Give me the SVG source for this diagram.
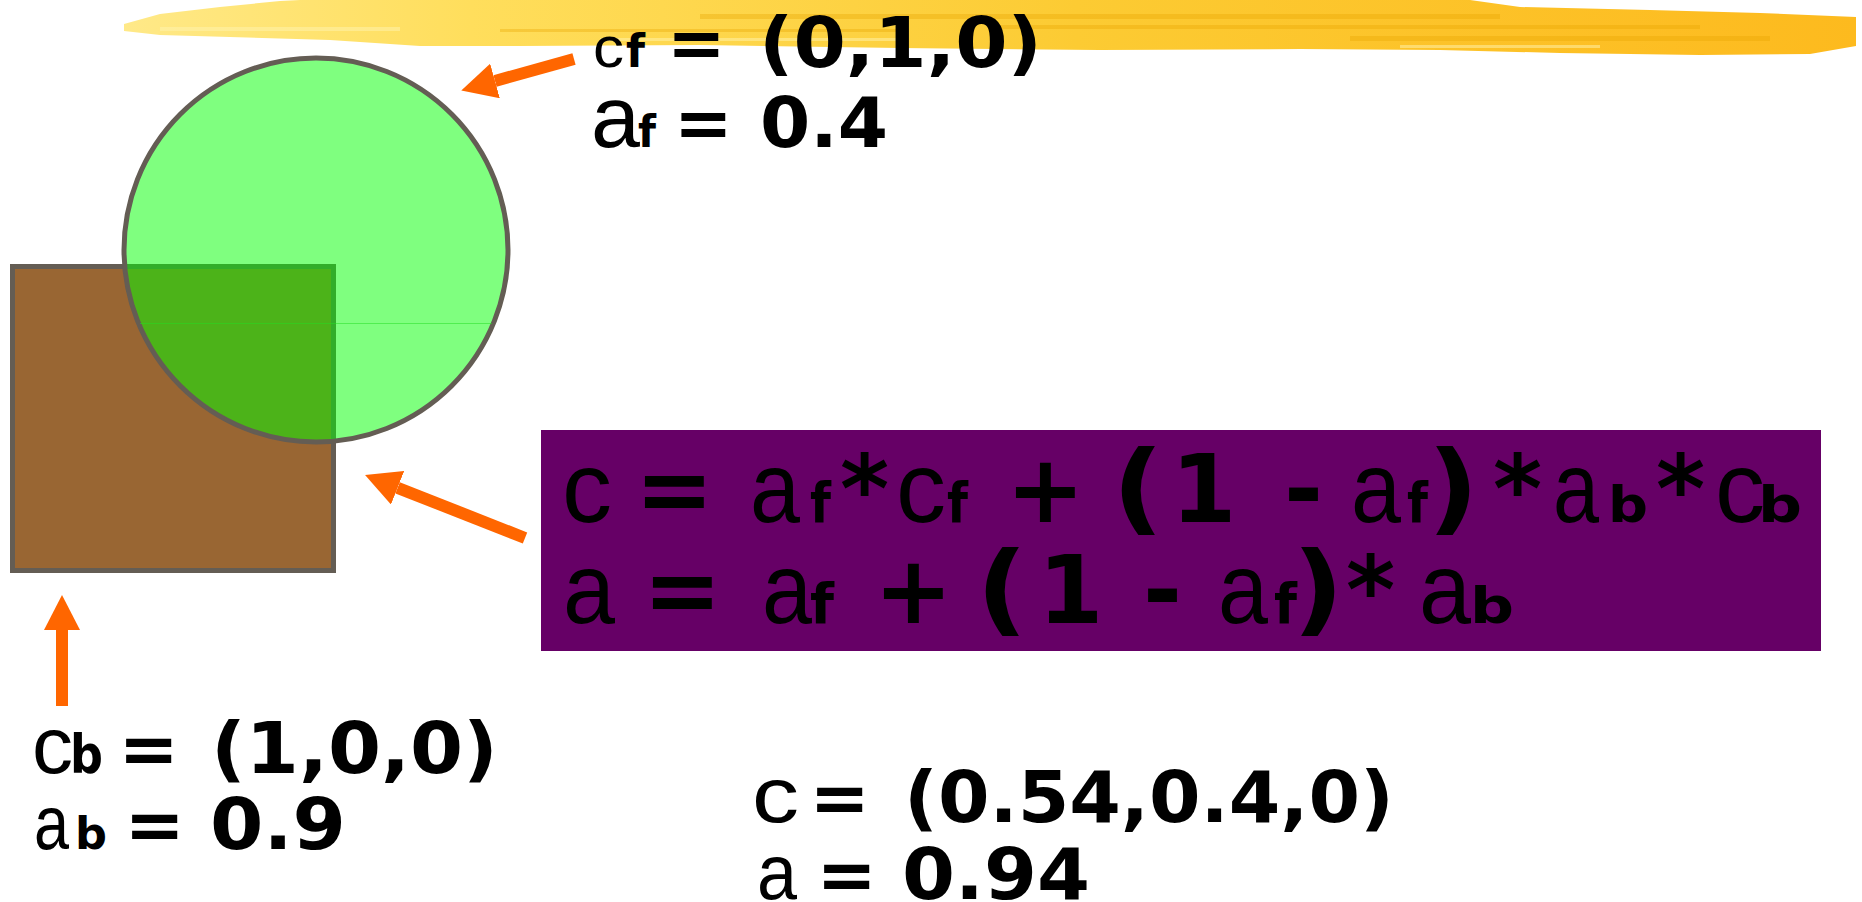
<svg xmlns="http://www.w3.org/2000/svg" width="1862" height="902" viewBox="0 0 1862 902">
<defs>
<style>
.b{font-family:"DejaVu Sans","Verdana",sans-serif;font-weight:bold;fill:#000}
.r{font-family:"Liberation Sans",Arial,sans-serif;font-weight:normal;fill:#000}
.arrow{stroke:#FF6600;stroke-width:12;fill:none;marker-end:url(#head)}
.outline{stroke:#645D54;stroke-width:5}
</style>
<marker id="head" markerUnits="userSpaceOnUse" viewBox="0 0 35 36" markerWidth="35" markerHeight="36" refX="0" refY="18" orient="auto">
<path d="M0,0 L35,18 L0,36 Z" fill="#FF6600"/>
</marker>
<linearGradient id="brush" x1="0" y1="0" x2="1" y2="0">
<stop offset="0" stop-color="#FFE988"/>
<stop offset="0.2" stop-color="#FFDE5C"/>
<stop offset="0.55" stop-color="#FCCB33"/>
<stop offset="1" stop-color="#FDBA1E"/>
</linearGradient>
</defs>
<rect width="1862" height="902" fill="#FFFFFF"/>
<g id="banner">
<polygon fill="url(#brush)" points="124,24 160,14 220,7 280,1 300,0 1470,0 1520,7 1650,10 1760,13 1856,17 1856,46 1810,54 1700,55 1560,53 1440,50 1300,49 1100,50 900,48 700,45 520,46 420,46 330,40 230,37 160,35 124,31"/>
<g opacity="0.35" fill="#E9A500">
<rect x="700" y="14" width="800" height="5"/>
<rect x="1000" y="25" width="700" height="4"/>
<rect x="1350" y="36" width="420" height="5"/>
<rect x="500" y="29" width="400" height="3"/>
</g>
<g opacity="0.5" fill="#FFF3B0">
<rect x="160" y="27" width="240" height="4"/>
<rect x="1400" y="45" width="200" height="3"/>
<rect x="600" y="38" width="300" height="3"/>
</g>
</g>
<g id="background-square">
<rect x="12.5" y="266.5" width="321" height="304" fill="#996633" class="outline"/>
</g>
<g id="foreground-circle">
<circle cx="316" cy="250" r="192" fill="#00FF00" fill-opacity="0.5" class="outline"/>
<line x1="140" y1="323.5" x2="492" y2="323.5" stroke="#22DD22" stroke-opacity="0.5" stroke-width="1"/>
</g>
<g id="connectors">
<line class="arrow" x1="574" y1="59" x2="495" y2="81"/>
<line class="arrow" x1="525" y1="538" x2="397.6" y2="487.8"/>
<line class="arrow" x1="62" y1="706" x2="62" y2="630"/>
</g>
<g id="label-foreground">
<text class="r" x="593" y="67" font-size="58" textLength="31" lengthAdjust="spacingAndGlyphs">c</text>
<text class="b" x="626" y="67" font-size="46" textLength="19" lengthAdjust="spacingAndGlyphs">f</text>
<text class="b" x="667" y="67" font-size="70">=</text>
<text class="b" x="759" y="67" font-size="70" textLength="283" lengthAdjust="spacingAndGlyphs">(0,1,0)</text>
<text class="r" x="591" y="147" font-size="88">a</text>
<text class="b" x="638" y="147" font-size="45" textLength="18" lengthAdjust="spacingAndGlyphs">f</text>
<text class="b" x="674" y="147" font-size="70">=</text>
<text class="b" x="760" y="147" font-size="70" textLength="128" lengthAdjust="spacingAndGlyphs">0.4</text>
</g>
<g id="label-background">
<text class="r" x="32" y="773" font-size="79" textLength="41" lengthAdjust="spacingAndGlyphs">c</text>
<text class="b" x="70" y="773" font-size="53" textLength="33" lengthAdjust="spacingAndGlyphs">b</text>
<text class="b" x="118.6" y="773" font-size="72">=</text>
<text class="b" x="211" y="773" font-size="72" textLength="287" lengthAdjust="spacingAndGlyphs">(1,0,0)</text>
<text class="r" x="34" y="849" font-size="76" textLength="35" lengthAdjust="spacingAndGlyphs">a</text>
<text class="b" x="75" y="849" font-size="44" textLength="32" lengthAdjust="spacingAndGlyphs">b</text>
<text class="b" x="124.6" y="849" font-size="72">=</text>
<text class="b" x="210" y="849" font-size="72" textLength="136" lengthAdjust="spacingAndGlyphs">0.9</text>
</g>
<g id="formula">
<rect x="541" y="430" width="1280" height="221" fill="#660066"/>
<text class="r" x="562" y="522" font-size="100">c</text>
<text class="b" x="635" y="522" font-size="94">=</text>
<text class="r" x="750" y="522" font-size="100" textLength="50" lengthAdjust="spacingAndGlyphs">a</text>
<text class="b" x="810" y="522" font-size="56" textLength="21" lengthAdjust="spacingAndGlyphs">f</text>
<text class="b" x="840" y="522" font-size="94">*</text>
<text class="r" x="896" y="522" font-size="100">c</text>
<text class="b" x="947" y="522" font-size="56" textLength="21" lengthAdjust="spacingAndGlyphs">f</text>
<text class="b" x="1006" y="522" font-size="94">+</text>
<text class="b" x="1112" y="522" font-size="100" textLength="52" lengthAdjust="spacingAndGlyphs">(</text>
<text class="b" x="1171" y="522" font-size="94">1</text>
<text class="b" x="1284" y="522" font-size="94">-</text>
<text class="r" x="1351" y="522" font-size="100" textLength="50" lengthAdjust="spacingAndGlyphs">a</text>
<text class="b" x="1407" y="522" font-size="56" textLength="21" lengthAdjust="spacingAndGlyphs">f</text>
<text class="b" x="1427" y="522" font-size="100" textLength="52" lengthAdjust="spacingAndGlyphs">)</text>
<text class="b" x="1493" y="522" font-size="94">*</text>
<text class="r" x="1553" y="522" font-size="100" textLength="46" lengthAdjust="spacingAndGlyphs">a</text>
<text class="b" x="1608" y="522" font-size="50" textLength="40" lengthAdjust="spacingAndGlyphs">b</text>
<text class="b" x="1656" y="522" font-size="94">*</text>
<text class="r" x="1715" y="522" font-size="100">c</text>
<text class="b" x="1758" y="522" font-size="50" textLength="44" lengthAdjust="spacingAndGlyphs">b</text>
<text class="r" x="563" y="623" font-size="100" textLength="52" lengthAdjust="spacingAndGlyphs">a</text>
<text class="b" x="643" y="623" font-size="94">=</text>
<text class="r" x="762" y="623" font-size="100" textLength="50" lengthAdjust="spacingAndGlyphs">a</text>
<text class="b" x="810" y="623" font-size="56" textLength="24" lengthAdjust="spacingAndGlyphs">f</text>
<text class="b" x="874" y="623" font-size="94">+</text>
<text class="b" x="976" y="623" font-size="100" textLength="52" lengthAdjust="spacingAndGlyphs">(</text>
<text class="b" x="1038" y="623" font-size="94">1</text>
<text class="b" x="1143" y="623" font-size="94">-</text>
<text class="r" x="1218" y="623" font-size="100" textLength="50" lengthAdjust="spacingAndGlyphs">a</text>
<text class="b" x="1274" y="623" font-size="56" textLength="23" lengthAdjust="spacingAndGlyphs">f</text>
<text class="b" x="1292" y="623" font-size="100" textLength="52" lengthAdjust="spacingAndGlyphs">)</text>
<text class="b" x="1346" y="623" font-size="94">*</text>
<text class="r" x="1419" y="623" font-size="100" textLength="52" lengthAdjust="spacingAndGlyphs">a</text>
<text class="b" x="1470" y="623" font-size="50" textLength="44" lengthAdjust="spacingAndGlyphs">b</text>
</g>
<g id="result">
<text class="r" x="752" y="822" font-size="78" textLength="47" lengthAdjust="spacingAndGlyphs">c</text>
<text class="b" x="809.6" y="822" font-size="72">=</text>
<text class="b" x="904" y="822" font-size="72" textLength="490" lengthAdjust="spacingAndGlyphs">(0.54,0.4,0)</text>
<text class="r" x="757" y="899" font-size="78" textLength="40" lengthAdjust="spacingAndGlyphs">a</text>
<text class="b" x="816.6" y="899" font-size="72">=</text>
<text class="b" x="902" y="899" font-size="72" textLength="188" lengthAdjust="spacingAndGlyphs">0.94</text>
</g>
</svg>
